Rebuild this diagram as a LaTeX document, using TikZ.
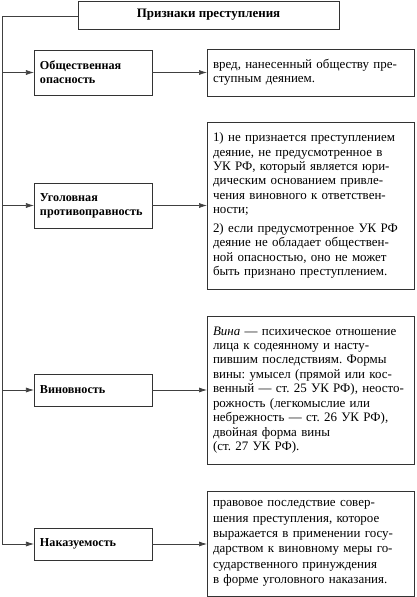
\documentclass[tikz,border=0pt]{standalone}
\usepackage{fontspec}
\setmainfont{Liberation Serif}
\usetikzlibrary{arrows.meta}
\frenchspacing
\begin{document}
\begin{tikzpicture}[x=1bp,y=-1bp,
  every node/.style={inner sep=0pt,outer sep=0pt},
  box/.style={draw=black!80,line width=0.8bp,rectangle},
  label/.style={box,minimum width=118bp,text width=106bp,align=left,font=\fontsize{12.2}{14}\selectfont\bfseries},
  desc/.style={box,minimum width=207bp,text width=195bp,align=left,font=\fontsize{13}{14.5}\selectfont},
  conn/.style={draw=black!75,line width=0.7bp},
  arr/.style={conn,-{Latex[length=8bp,width=5bp]}}]
\useasboundingbox (0,0) rectangle (416,597);
\node[box,minimum width=261bp,minimum height=28bp,font=\fontsize{13}{15}\selectfont\bfseries] (title) at (208.5,15) {Признаки преступления};

\node[label,minimum height=45bp] (b1) at (93,72.5) {Общественная\\опасность};
\node[label,minimum height=45bp] (b2) at (93,205.5) {Уголовная\\противоправность};
\node[label,minimum height=32bp] (b3) at (93,390) {Виновность};
\node[label,minimum height=32bp] (b4) at (93,544) {Наказуемость};

\node[desc,minimum height=47bp] (r1) at (310.5,72.5) {вред, нанесенный обществу пре-\\ступным деянием.};
\node[desc,minimum height=167bp] (r2) at (310.5,205.5) {1) не признается преступлением\\деяние, не предусмотренное в\\УК РФ, который является юри-\\дическим основанием привле-\\чения виновного к ответствен-\\ности;\\[4bp]2) если предусмотренное УК РФ\\деяние не обладает обществен-\\ной опасностью, оно не может\\быть признано преступлением.};
\node[desc,minimum height=148bp] (r3) at (310.5,390) {\textit{Вина} — психическое отношение\\лица к содеянному и насту-\\пившим последствиям. Формы\\вины: умысел (прямой или кос-\\венный — ст. 25 УК РФ), неосто-\\рожность (легкомыслие или\\небрежность — ст. 26 УК РФ),\\двойная форма вины\\(ст. 27 УК РФ).};
\node[desc,minimum height=105bp,font=\fontsize{13}{15.4}\selectfont] (r4) at (310.5,543.5) {правовое последствие совер-\\шения преступления, которое\\выражается в применении госу-\\дарством к виновному меры го-\\сударственного принуждения\\в форме уголовного наказания.};

\coordinate (top) at (2,16);
\draw[conn] (title.west |- top) -- (top) -- (top |- b4.west);
\draw[arr] (top |- b1.west) -- (b1.west);
\draw[arr] (top |- b2.west) -- (b2.west);
\draw[arr] (top |- b3.west) -- (b3.west);
\draw[arr] (top |- b4.west) -- (b4.west);
\foreach \i in {1,2,3,4} {\draw[arr] (b\i.east) -- (r\i.west |- b\i.east);}
\end{tikzpicture}
\end{document}
